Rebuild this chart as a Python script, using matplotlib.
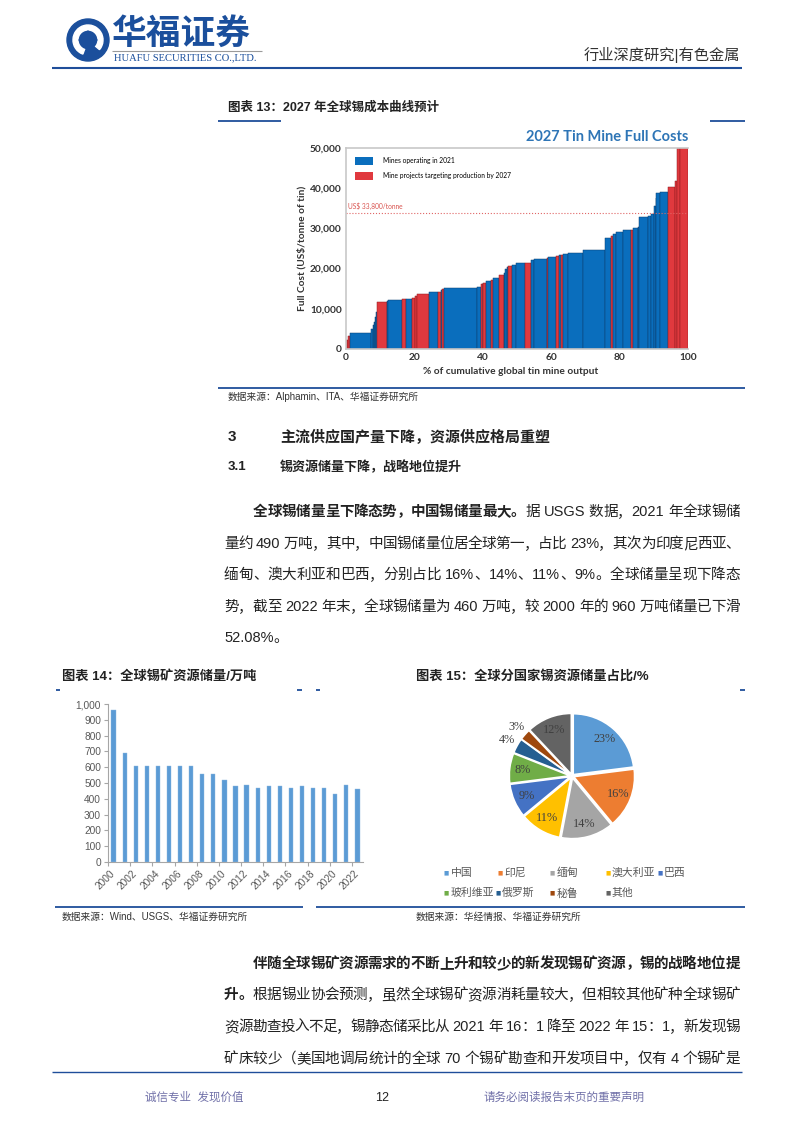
"""
Página 12 do relatório (有色金属): curva de custo do estanho 2027,
reservas globais 2000-2022 e participação por país.
Saída: out.png (794x1123)
"""

import numpy as np
import matplotlib
matplotlib.use("Agg")
import matplotlib.pyplot as plt
from matplotlib.patches import Patch, Circle, Wedge, Polygon
from matplotlib.ticker import FuncFormatter

W, H = 794, 1123
BODY = ["Liberation Sans", "Noto Sans CJK SC"]
INK = "#222222"
NAVY = "#1F4E9A"

# ── Gráfico 13: curva de custo (participação % e custo US$/t) ────────────────
mine_share = [0.5, 0.8, 6.1, 0.4, 0.4, 0.4, 0.3, 0.2, 2.9, 0.3, 4.1, 1.2, 1.6,
              1.1, 0.5, 3.4, 2.8, 0.8, 0.2, 0.7, 9.7, 1.2, 0.4, 0.2, 0.7, 1.4,
              0.7, 1.6, 1.6, 0.4, 0.4, 0.3, 1.1, 1.3, 2.7, 1.6, 1.0, 3.9, 0.3,
              2.2, 0.8, 0.6, 0.7, 1.3, 4.4, 6.6, 1.7, 0.7, 0.8, 1.9, 2.4, 0.5,
              1.5, 0.5, 2.5, 0.9, 1.0, 0.3, 0.2, 1.0, 2.4, 2.0, 0.7, 0.8, 2.4]
mine_cost = [2200, 3300, 3900, 5000, 6000, 6700, 8000, 9200, 11700, 12000,
             12300, 12350, 12500, 12800, 13200, 13600, 14200, 14300, 14600,
             15000, 15100, 15400, 16200, 16300, 16400, 17000, 17200, 17700,
             18300, 19000, 19800, 20300, 20700, 21000, 21400, 21400, 22100,
             22500, 22600, 22800, 23200, 23400, 23500, 23600, 23900, 24600,
             27500, 28200, 28700, 29200, 29500, 29700, 30000, 30400, 32800,
             33200, 33600, 35500, 37500, 38700, 39000, 40300, 41900, 52000,
             52000]
mine_type = list("rrbbbbbbrbbrbrrrbrbrbbrbrbrbrbbbrbbrbbrbrbrbbbbrbbbrbbbbbbbbbrrr")
price_line = 33800

# ── Gráfico 14: reservas globais (万吨) ──────────────────────────────────────
years = list(range(2000, 2023))
reserves = [960, 690, 610, 610, 610, 610, 610, 610, 560, 560, 520, 480, 490,
            470, 480, 480, 470, 480, 470, 470, 430, 490, 460]

# ── Gráfico 15: participação por país (%) ────────────────────────────────────
countries = ["中国", "印尼", "缅甸", "澳大利亚", "巴西", "玻利维亚", "俄罗斯", "秘鲁", "其他"]
shares = [23, 16, 14, 11, 9, 8, 4, 3, 12]
pie_colors = ["#5B9BD5", "#ED7D31", "#A5A5A5", "#FFC000", "#4472C4",
              "#70AD47", "#255E91", "#9E480E", "#636363"]

fig = plt.figure(figsize=(W / 100, H / 100), dpi=100)
fig.patch.set_facecolor("white")

# camada de fundo em coordenadas de pixel (y para baixo)
bg = fig.add_axes([0, 0, 1, 1])
bg.set_xlim(0, W)
bg.set_ylim(H, 0)
bg.axis("off")


def box(x0, y0, x1, y1):
    return [x0 / W, 1 - y1 / H, (x1 - x0) / W, (y1 - y0) / H]


def hline(y, x0, x1, color=NAVY, lw=1.3):
    bg.plot([x0, x1], [y, y], color=color, lw=lw, solid_capstyle="butt")


def split_units(runs):
    units = []
    for s, w in runs:
        buf = ""
        for ch in s:
            if ch.isascii() and ch != " ":
                buf += ch
                continue
            if buf:
                units.append((buf, w))
                buf = ""
            units.append((ch, w))
        if buf:
            units.append((buf, w))
    return units


def para_line(y, runs, x0=224, x1=740, size=10.5, justify=True):
    units = split_units(runs)
    arts = [bg.text(0, y + 5, u, fontsize=size, fontweight=w, family=BODY,
                    color=INK, va="baseline", ha="left") for u, w in units]
    r = fig.canvas.get_renderer()
    widths = []
    for (u, _), a in zip(units, arts):
        widths.append(size * 0.3 * 100 / 72 if u == " " else a.get_window_extent(r).width)
    gap = (x1 - x0 - sum(widths)) / (len(units) - 1) if justify else 0
    x = x0
    for a, wd in zip(arts, widths):
        a.set_x(x)
        x += wd + gap


# ── cabeçalho ────────────────────────────────────────────────────────────────
bg.add_patch(Circle((88, 40), 21, color="#1B4F9C"))
bg.add_patch(Wedge((88, 40), 15, 110, 400, width=5, color="white"))
bg.add_patch(Polygon([(88, 31), (97, 40), (88, 49), (79, 40)], color="#1B4F9C"))
bg.text(112, 34, "华福证券", fontsize=25, fontweight="bold", family=BODY,
        color="#1B4F9C", va="center", ha="left")
hline(50.5, 112, 262, color="#9A9A9A", lw=0.8)
bg.text(114, 58, "HUAFU SECURITIES CO.,LTD.", fontsize=7.6, family="Liberation Serif",
        color="#1B4F9C", va="center", ha="left")
bg.text(740, 55, "行业深度研究|有色金属", fontsize=11, family=BODY, color="#333333",
        va="center", ha="right")
hline(68, 52, 742, lw=1.5)

# ── gráfico 13 ───────────────────────────────────────────────────────────────
bg.text(228, 108, "图表 13：2027 年全球锡成本曲线预计", fontsize=9, fontweight="bold",
        family=BODY, color=INK, va="center")
hline(121, 218, 281)
hline(121, 710, 745)

C13 = {"b": "#0A6EBD", "r": "#E0393E"}
E13 = {"b": "#0B3F70", "r": "#8E1C20"}
ax1 = fig.add_axes(box(346, 148, 688, 349))
lefts = np.concatenate([[0], np.cumsum(mine_share)[:-1]])
ax1.bar(lefts, mine_cost, width=mine_share, align="edge",
        color=[C13[t] for t in mine_type], edgecolor=[E13[t] for t in mine_type],
        linewidth=0.35)
ax1.axhline(price_line, color="#E06666", ls=":", lw=0.8)
ax1.text(0.6, price_line + 900, "US$ 33,800/tonne", fontsize=4.8, color="#D9534F",
         family="Lato", va="bottom")
ax1.set_xlim(0, 100)
ax1.set_ylim(0, 50000)
ax1.set_xticks(range(0, 101, 20))
ax1.set_yticks(range(0, 50001, 10000))
ax1.yaxis.set_major_formatter(FuncFormatter(lambda v, _: f"{v:,.0f}"))
for lab in ax1.get_xticklabels() + ax1.get_yticklabels():
    lab.set_fontfamily("Lato")
    lab.set_fontweight("bold")
    lab.set_fontsize(7.3)
    lab.set_color("#333333")
ax1.tick_params(length=0, pad=3)
for side in ["left", "top", "bottom"]:
    ax1.spines[side].set_color("#C8C8C8")
    ax1.spines[side].set_linewidth(1.2)
ax1.spines["right"].set_visible(False)
ax1.legend([Patch(facecolor=C13["b"]), Patch(facecolor=C13["r"])],
           ["Mines operating in 2021", "Mine projects targeting production by 2027"],
           loc="upper left", bbox_to_anchor=(0.01, 0.985), frameon=False,
           prop={"family": "Lato", "size": 4.8}, handlelength=2.6, handleheight=1.5,
           labelspacing=1.0, handletextpad=1.6)
bg.text(688, 137, "2027 Tin Mine Full Costs", fontsize=10.5, fontweight="bold",
        family="Lato", color="#2E75B6", va="center", ha="right")
bg.text(302, 248, "Full Cost (US$/tonne of tin)", fontsize=7.3, fontweight="bold",
        family="Lato", color="#333333", rotation=90, va="center", ha="center")
bg.text(511, 371, "% of cumulative global tin mine output", fontsize=7.3,
        fontweight="bold", family="Lato", color="#333333", va="center", ha="center")

hline(388, 218, 745)
bg.text(228, 397, "数据来源：Alphamin、ITA、华福证券研究所", fontsize=7, family=BODY,
        color="#333333", va="center")

# ── títulos de seção ─────────────────────────────────────────────────────────
bg.text(228, 437, "3", fontsize=11, fontweight="bold", family=BODY, color=INK, va="center")
bg.text(280, 437, "主流供应国产量下降，资源供应格局重塑", fontsize=10.8, fontweight="bold",
        family=BODY, color=INK, va="center")
bg.text(228, 467, "3.1", fontsize=9.5, fontweight="bold", family=BODY, color=INK, va="center")
bg.text(280, 467, "锡资源储量下降，战略地位提升", fontsize=9.4, fontweight="bold",
        family=BODY, color=INK, va="center")

B, N = "bold", "normal"
para_line(511, [("全球锡储量呈下降态势，中国锡储量最大。", B), ("据 USGS 数据，2021 年全球锡储", N)], x0=253)
para_line(543, [("量约 490 万吨，其中，中国锡储量位居全球第一，占比 23%，其次为印度尼西亚、", N)])
para_line(574, [("缅甸、澳大利亚和巴西，分别占比 16%、14%、11%、9%。全球储量呈现下降态", N)])
para_line(606, [("势，截至 2022 年末，全球锡储量为 460 万吨，较 2000 年的 960 万吨储量已下滑", N)])
para_line(637, [("52.08%。", N)], justify=False)

# ── gráfico 14 ───────────────────────────────────────────────────────────────
bg.text(62, 676, "图表 14：全球锡矿资源储量/万吨", fontsize=9.5, fontweight="bold",
        family=BODY, color=INK, va="center")
bg.text(416, 676, "图表 15：全球分国家锡资源储量占比/%", fontsize=9.5, fontweight="bold",
        family=BODY, color=INK, va="center")
for a, b in [(56, 60), (297, 302), (316, 320), (740, 745)]:
    hline(690, a, b)

ax2 = fig.add_axes(box(108, 704, 363, 862))
xpos = np.arange(len(years))
ax2.bar(xpos, reserves, width=0.38, color="#5B9BD5", edgecolor="#8FB8E0", linewidth=0.3)
ax2.set_xlim(-0.5, len(years) - 0.5)
ax2.set_ylim(0, 1000)
ax2.set_yticks(range(0, 1001, 100))
ax2.yaxis.set_major_formatter(FuncFormatter(lambda v, _: f"{v:,.0f}"))
ax2.set_xticks(np.arange(-0.5, len(years), 2))
ax2.set_xticklabels([])
ax2.set_xticks(xpos[::2], minor=True)
ax2.set_xticklabels([str(y) for y in years[::2]], minor=True, rotation=45,
                    ha="right", va="center", rotation_mode="anchor")
ax2.tick_params(axis="x", which="minor", length=0, pad=7)
ax2.tick_params(axis="x", which="major", length=3, color="#A6A6A6")
ax2.tick_params(axis="y", length=3, color="#A6A6A6", pad=2)
for lab in ax2.get_yticklabels() + ax2.get_xticklabels(minor=True):
    lab.set_fontfamily("Liberation Sans")
    lab.set_fontsize(7.3)
    lab.set_color("#595959")
for side in ["top", "right"]:
    ax2.spines[side].set_visible(False)
for side in ["left", "bottom"]:
    ax2.spines[side].set_color("#A6A6A6")
    ax2.spines[side].set_linewidth(0.8)

# ── gráfico 15 ───────────────────────────────────────────────────────────────
ax3 = fig.add_axes(box(572 - 67, 776 - 67, 572 + 67, 776 + 67))
wedges, _, pct_txt = ax3.pie(shares, colors=pie_colors, startangle=90, counterclock=False,
                             explode=[0.03] * len(shares), autopct=lambda p: f"{p:.0f}%",
                             pctdistance=0.78,
                             wedgeprops={"edgecolor": "white", "linewidth": 1.2},
                             textprops={"family": "Liberation Serif", "fontsize": 8.8,
                                        "color": "#404040"})
for w, t, s in zip(wedges, pct_txt, shares):
    if s <= 4:
        ang = np.deg2rad((w.theta1 + w.theta2) / 2)
        t.set_position((1.21 * np.cos(ang), 1.21 * np.sin(ang)))
ax3.set_xlim(-1.1, 1.1)
ax3.set_ylim(-1.1, 1.1)
ax3.set_aspect("equal")

leg_x = [444, 497, 550, 605, 657, 444, 495, 550, 605]
leg_y = [873] * 5 + [893] * 4
for name, col, lx, ly in zip(countries, pie_colors, leg_x, leg_y):
    bg.text(lx, ly, "■", fontsize=4, color=col, va="center", ha="left", family="DejaVu Sans")
    bg.text(lx + 7, ly, name, fontsize=7.8, color="#595959", va="center", ha="left",
            family=BODY)

hline(907, 55, 303)
hline(907, 316, 745)
bg.text(62, 917, "数据来源：Wind、USGS、华福证券研究所", fontsize=7, family=BODY,
        color="#333333", va="center")
bg.text(416, 917, "数据来源：华经情报、华福证券研究所", fontsize=7, family=BODY,
        color="#333333", va="center")

# ── segundo parágrafo ────────────────────────────────────────────────────────
para_line(963, [("伴随全球锡矿资源需求的不断上升和较少的新发现锡矿资源，锡的战略地位提", B)], x0=253)
para_line(994, [("升。", B), ("根据锡业协会预测，虽然全球锡矿资源消耗量较大，但相较其他矿种全球锡矿", N)])
para_line(1026, [("资源勘查投入不足，锡静态储采比从 2021 年 16：1 降至 2022 年 15：1，新发现锡", N)])
para_line(1058, [("矿床较少（美国地调局统计的全球 70 个锡矿勘查和开发项目中，仅有 4 个锡矿是", N)])

# ── rodapé ───────────────────────────────────────────────────────────────────
hline(1072, 52, 742, lw=1.0)
bg.text(145, 1098, "诚信专业  发现价值", fontsize=8.3, family=BODY, color="#7070A8",
        va="center", ha="left")
bg.text(382, 1098, "12", fontsize=9, family="Liberation Sans", color=INK,
        va="center", ha="center")
bg.text(483, 1098, "请务必阅读报告末页的重要声明", fontsize=8.3, family=BODY,
        color="#7070A8", va="center", ha="left")

fig.savefig("out.png", dpi=100)
